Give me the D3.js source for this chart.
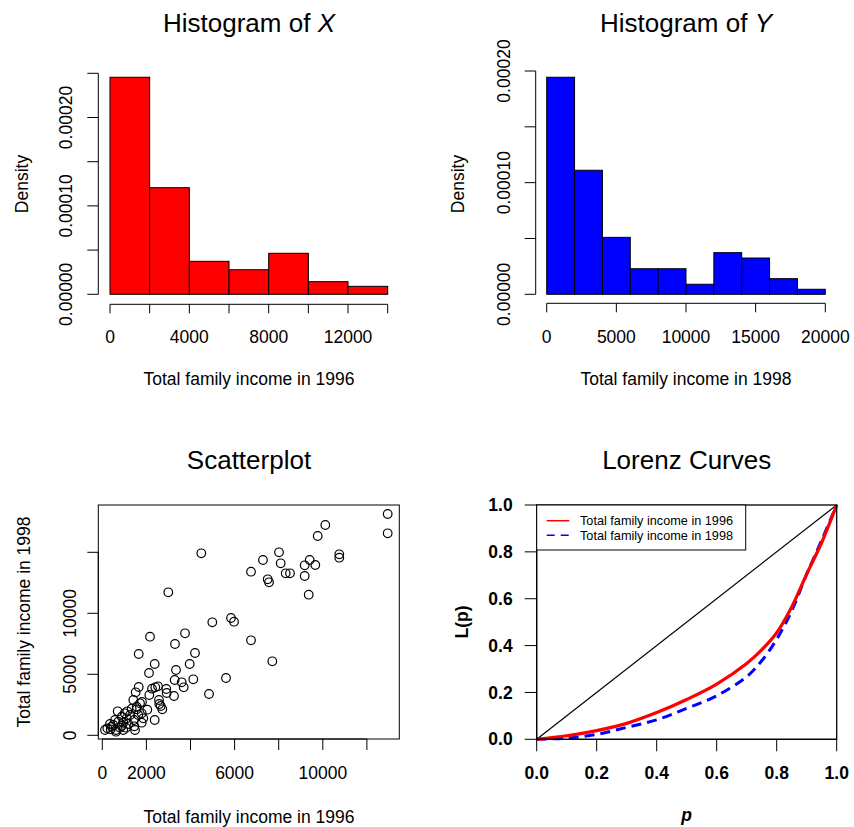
<!DOCTYPE html>
<html lang="en">
<head>
<meta charset="UTF-8">
<title>Income distribution</title>
<script src="https://d3js.org/d3.v7.min.js"></script>
<style>
  body { margin: 0; background: #fff; }
  svg { display: block; font-family: "Liberation Sans", Arial, sans-serif; }
</style>
</head>
<body>
<svg id="chart" width="854" height="827"></svg>
<script>
// histogram of X (1996), density per bin of width 2000
var histXBreaks = [0, 2000, 4000, 6000, 8000, 10000, 12000, 14000];
var histXDensity = [0.0002455, 0.0001206, 0.0000373, 0.0000278, 0.0000464, 0.0000143, 0.0000090];
var histXTicks = [0, 2000, 4000, 6000, 8000, 10000, 12000, 14000];
var histXTickLabels = ["0", "", "4000", "", "8000", "", "12000", ""];

// histogram of Y (1998)
var histYBreaks = [0, 2000, 4000, 6000, 8000, 10000, 12000, 14000, 16000, 18000, 20000];
var histYDensity = [0.0001944, 0.0001111, 0.0000510, 0.0000229, 0.0000229, 0.0000090, 0.0000373, 0.0000325, 0.0000140, 0.0000045];
var histYTicks = [0, 5000, 10000, 15000, 20000];

var densTicksX = [0, 0.00005, 0.0001, 0.00015, 0.0002, 0.00025];
var densTicksY = [0, 0.00005, 0.0001, 0.00015, 0.0002];
var densLabelled = [0, 0.0001, 0.0002];

// scatterplot: income 1996 vs income 1998
var income1996 = [12943, 12943, 10113, 9769, 4490, 8014, 7288, 8091, 6744, 8317, 8512, 7501, 7560, 9179, 9406, 9660, 9179, 10748, 10748, 9361,
  2993, 5837, 5973, 4989, 6744, 7710, 5610, 4839, 2163, 3751, 3297, 1651, 4204, 2376, 3963, 2118, 3342, 3283, 4127, 3601,
  3691, 3251, 2902, 2920, 2526, 2404, 2254, 1651, 1515, 2132, 1406, 1800, 2571, 2585, 2649, 2721, 2041, 2376, 698, 1134,
  1333, 1560, 1787, 1859, 1438, 1107, 952, 1451, 1075, 726, 499, 381, 621, 803, 349, 1787, 1256, 1633, 880, 576,
  1179, 1483, 227, 426, 880, 621, 1560, 1710, 1016, 952, 122];
var income1998 = [18139, 16557, 17238, 16336, 14918, 15000, 14369, 14098, 13410, 13279, 13279, 12787, 12541, 13934, 14369, 13959, 13057, 14836, 14557, 11525,
  11721, 9615, 9311, 9262, 7787, 6066, 4697, 3385, 8082, 8361, 7484, 6664, 6746, 5844, 5844, 5107, 5352, 4533, 4590, 4344,
  3934, 3221, 3795, 3467, 4016, 3934, 3820, 3959, 3525, 3303, 2893, 2730, 2893, 2566, 2402, 2131, 2098, 1254, 1967, 1967,
  2180, 2131, 1803, 1393, 1254, 1393, 1033, 738, 623, 1115, 844, 492, 434, 623, 926, 1033, 1664, 1664, 1525, 1254,
  926, 434, 574, 705, 762, 295, 2344, 2623, 1803, 434, 434];
var scatXTicks = [0, 2000, 4000, 6000, 8000, 10000, 12000];
var scatXTickLabels = ["0", "2000", "", "6000", "", "10000", ""];
var scatYTicks = [0, 5000, 10000, 15000];
var scatYTickLabels = ["0", "5000", "10000", ""];

// Lorenz curves
var lorenzP = [0, 0.1, 0.2, 0.3, 0.4, 0.5, 0.6, 0.7, 0.75, 0.8, 0.85, 0.9, 0.95, 1];
var lorenz1996 = [0, 0.015, 0.037, 0.068, 0.114, 0.170, 0.236, 0.324, 0.382, 0.455, 0.565, 0.705, 0.840, 1];
var lorenz1998 = [0, 0.005, 0.021, 0.051, 0.083, 0.132, 0.186, 0.267, 0.335, 0.427, 0.548, 0.705, 0.850, 1];
var lorenzTicks = [0, 0.2, 0.4, 0.6, 0.8, 1];
var legendLabels = ["Total family income in 1996", "Total family income in 1998"];

var svg = d3.select("#chart");
var FS = 17.5;

function title(x, y, parts) {
  var t = svg.append("text").attr("x", x).attr("y", y).attr("text-anchor", "middle").attr("font-size", 26);
  parts.forEach(function (p) {
    t.append("tspan").attr("font-style", p[1] ? "italic" : "normal").text(p[0]);
  });
}

function vText(x, y, s, opts) {
  opts = opts || {};
  svg.append("text")
    .attr("transform", "translate(" + x + "," + y + ") rotate(-90)")
    .attr("text-anchor", "middle")
    .attr("font-size", opts.size || FS)
    .attr("font-weight", opts.bold ? "bold" : "normal")
    .text(s);
}

function hText(x, y, s, opts) {
  opts = opts || {};
  svg.append("text")
    .attr("x", x).attr("y", y)
    .attr("text-anchor", opts.anchor || "middle")
    .attr("dy", opts.dy || 0)
    .attr("font-size", opts.size || FS)
    .attr("font-weight", opts.bold ? "bold" : "normal")
    .attr("font-style", opts.italic ? "italic" : "normal")
    .text(s);
}

function line(x1, y1, x2, y2, w) {
  svg.append("line").attr("x1", x1).attr("y1", y1).attr("x2", x2).attr("y2", y2)
    .attr("stroke", "#000").attr("stroke-width", w || 1);
}

// bottom axis in the R style: line from first to last tick
function bottomAxis(scale, ticks, labels, yLine, tickLen, labelY, bold) {
  line(scale(ticks[0]), yLine, scale(ticks[ticks.length - 1]), yLine);
  ticks.forEach(function (t, i) {
    line(scale(t), yLine, scale(t), yLine + tickLen);
    if (labels[i] !== "") hText(scale(t), labelY, labels[i], { bold: bold });
  });
}

function leftAxis(scale, ticks, xLine, tickLen) {
  line(xLine, scale(ticks[0]), xLine, scale(ticks[ticks.length - 1]));
  ticks.forEach(function (t) { line(xLine - tickLen, scale(t), xLine, scale(t)); });
}

function densLabel(v) { return d3.format(".5f")(v); }

// ---------- Histogram of X ----------
(function () {
  var x = d3.scaleLinear().domain([0, 14000]).range([110, 387.7]);
  var y = d3.scaleLinear().domain([0, 0.00025]).range([294.3, 73.3]);
  svg.append("g").selectAll("rect")
    .data(histXDensity)
    .enter().append("rect")
    .attr("x", function (d, i) { return x(histXBreaks[i]); })
    .attr("width", function (d, i) { return x(histXBreaks[i + 1]) - x(histXBreaks[i]); })
    .attr("y", function (d) { return y(d); })
    .attr("height", function (d) { return y(0) - y(d); })
    .attr("fill", "#ff0000").attr("stroke", "#000").attr("stroke-width", 1);
  bottomAxis(x, histXTicks, histXTickLabels, 304.3, 9, 343.3);
  leftAxis(y, densTicksX, 98.3, 11);
  densLabelled.forEach(function (v) { vText(72.3, y(v), densLabel(v)); });
  title(249, 31.7, [["Histogram of ", false], ["X", true]]);
  vText(27.7, 184, "Density");
  hText(249, 384.5, "Total family income in 1996");
})();

// ---------- Histogram of Y ----------
(function () {
  var x = d3.scaleLinear().domain([0, 20000]).range([546.7, 825.3]);
  var y = d3.scaleLinear().domain([0, 0.0002]).range([294.3, 71]);
  svg.append("g").selectAll("rect")
    .data(histYDensity)
    .enter().append("rect")
    .attr("x", function (d, i) { return x(histYBreaks[i]); })
    .attr("width", function (d, i) { return x(histYBreaks[i + 1]) - x(histYBreaks[i]); })
    .attr("y", function (d) { return y(d); })
    .attr("height", function (d) { return y(0) - y(d); })
    .attr("fill", "#0000ff").attr("stroke", "#000").attr("stroke-width", 1);
  bottomAxis(x, histYTicks, histYTicks.map(String), 303.3, 9, 343.3);
  leftAxis(y, densTicksY, 535.7, 11);
  densLabelled.forEach(function (v) { vText(509.5, y(v), densLabel(v)); });
  title(686, 31.7, [["Histogram of ", false], ["Y", true]]);
  vText(464.4, 184, "Density");
  hText(686, 384.5, "Total family income in 1998");
})();

// ---------- Scatterplot ----------
(function () {
  var x = d3.scaleLinear().domain([0, 12000]).range([102.3, 366.9]);
  var y = d3.scaleLinear().domain([0, 15000]).range([735.3, 552.3]);
  svg.append("rect").attr("x", 98.3).attr("y", 505).attr("width", 301).attr("height", 234)
    .attr("fill", "none").attr("stroke", "#000").attr("stroke-width", 1);
  svg.append("g").selectAll("circle")
    .data(income1996)
    .enter().append("circle")
    .attr("cx", function (d) { return x(d); })
    .attr("cy", function (d, i) { return y(income1998[i]); })
    .attr("r", 4.3)
    .attr("fill", "none").attr("stroke", "#000").attr("stroke-width", 1.2);
  bottomAxis(x, scatXTicks, scatXTickLabels, 739, 11, 779);
  leftAxis(y, scatYTicks, 98.3, 11);
  scatYTicks.forEach(function (t, i) {
    if (scatYTickLabels[i] !== "") vText(76, y(t), scatYTickLabels[i]);
  });
  title(249, 469, [["Scatterplot", false]]);
  vText(30, 622, "Total family income in 1998");
  hText(249, 822.7, "Total family income in 1996");
})();

// ---------- Lorenz curves ----------
(function () {
  var x = d3.scaleLinear().domain([0, 1]).range([536.7, 836.7]);
  var y = d3.scaleLinear().domain([0, 1]).range([739.3, 505]);
  var fmt = d3.format(".1f");

  line(x(0), y(0), x(1), y(1), 1.2);

  var gen = d3.line()
    .x(function (d, i) { return x(lorenzP[i]); })
    .y(function (d) { return y(d); })
    .curve(d3.curveCatmullRom.alpha(0.5));

  svg.append("path").attr("d", gen(lorenz1998))
    .attr("fill", "none").attr("stroke", "#0000ff").attr("stroke-width", 3)
    .attr("stroke-dasharray", "10,6");
  svg.append("path").attr("d", gen(lorenz1996))
    .attr("fill", "none").attr("stroke", "#ff0000").attr("stroke-width", 3.2);

  svg.append("rect").attr("x", x(0)).attr("y", y(1)).attr("width", x(1) - x(0)).attr("height", y(0) - y(1))
    .attr("fill", "none").attr("stroke", "#000").attr("stroke-width", 1.3);

  bottomAxis(x, lorenzTicks, lorenzTicks.map(fmt), y(0), 12, 779, true);
  leftAxis(y, lorenzTicks, x(0), 12);
  lorenzTicks.forEach(function (t) {
    hText(512.7, y(t), fmt(t), { anchor: "end", dy: "0.35em", bold: true });
  });

  // legend
  var lg = svg.append("g");
  lg.append("rect").attr("x", 536.7).attr("y", 505).attr("width", 209).attr("height", 45)
    .attr("fill", "#fff").attr("stroke", "#000").attr("stroke-width", 1);
  var colors = ["#ff0000", "#0000ff"];
  var dashes = [null, "8,6"];
  legendLabels.forEach(function (s, i) {
    var ly = 520.7 + i * 14.5;
    lg.append("line").attr("x1", 546.7).attr("x2", 569.3).attr("y1", ly).attr("y2", ly)
      .attr("stroke", colors[i]).attr("stroke-width", 1.5).attr("stroke-dasharray", dashes[i]);
    lg.append("text").attr("x", 580).attr("y", ly).attr("dy", "0.35em")
      .attr("font-size", 12.7).text(s);
  });

  title(686.7, 469, [["Lorenz Curves", false]]);
  vText(468, 622, "L(p)", { bold: true });
  hText(686.7, 821, "p", { bold: true, italic: true });
})();
</script>
</body>
</html>
